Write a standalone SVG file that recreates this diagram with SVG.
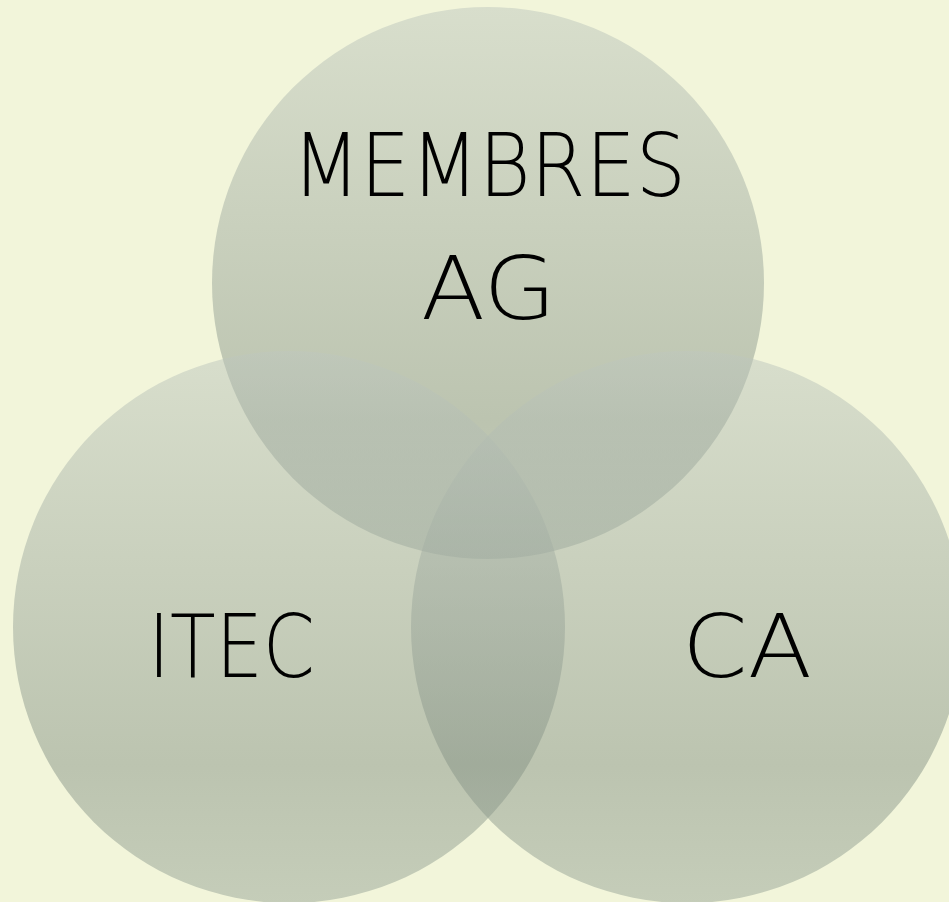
<svg xmlns="http://www.w3.org/2000/svg" width="949" height="902" viewBox="0 0 949 902">
  <defs>
    <linearGradient id="g" x1="0" y1="0" x2="0" y2="1">
      <stop offset="0" stop-color="#BEC7BE"/>
      <stop offset="0.75" stop-color="#869386"/>
      <stop offset="1" stop-color="#98A598"/>
    </linearGradient>
  </defs>
  <style>
    .c { fill: url(#g); fill-opacity: 0.5; }
    .t { font-family: "DejaVu Sans", "Liberation Sans", Arial, sans-serif; font-weight: 200; font-size: 88px; fill: #000; text-anchor: middle; }
  </style>
  <rect width="949" height="902" fill="#F2F5DA"/>
  <g id="membres">
    <circle class="c" cx="488" cy="283" r="276"/>
  </g>
  <g id="itec">
    <circle class="c" cx="289" cy="627" r="276"/>
  </g>
  <g id="ca">
    <circle class="c" cx="687" cy="627" r="276"/>
  </g>
  <g id="labels">
    <text class="t" x="489" y="196" textLength="394" lengthAdjust="spacingAndGlyphs">MEMBRES</text>
    <text class="t" x="488.5" y="319" textLength="135" lengthAdjust="spacingAndGlyphs">AG</text>
    <text class="t" x="231.5" y="677" textLength="167" lengthAdjust="spacingAndGlyphs">ITEC</text>
    <text class="t" x="747" y="677" textLength="130" lengthAdjust="spacingAndGlyphs">CA</text>
  </g>
  <g id="connectors"/>
</svg>
